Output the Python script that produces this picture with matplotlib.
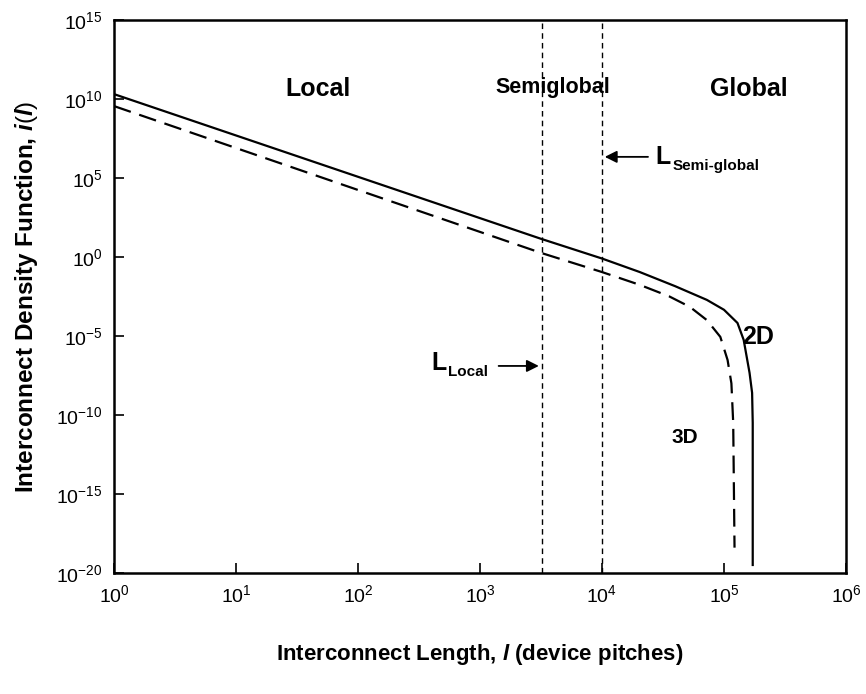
import math

import matplotlib
matplotlib.use("Agg")
import matplotlib.pyplot as plt
import matplotlib.ticker as mticker

# ---- data (log-log) ----
L_2D = [1, 3.16e3, 1.0e4, 2.04e4, 3.98e4, 7.24e4, 1.0e5, 1.29e5, 1.45e5,
        1.62e5, 1.70e5, 1.72e5, 1.72e5]
I_2D = [2.0e10, 1.4e1, 7.9e-1, 1.1e-1, 1.4e-2, 1.9e-3, 4.5e-4, 6.6e-5,
        5.6e-6, 4.6e-8, 2.5e-9, 3.2e-11, 3.2e-20]

L_3D = [1, 3.16e3, 1.0e4, 2.04e4, 3.55e4, 5.25e4, 7.24e4, 9.33e4, 1.07e5,
        1.15e5, 1.19e5, 1.22e5]
I_3D = [3.5e9, 1.8e0, 1.1e-1, 1.7e-2, 3.2e-3, 6.9e-4, 1.0e-4, 8.7e-6,
        3.0e-7, 1.0e-8, 3.2e-11, 4.0e-19]

L_LOCAL = 3.2e3
L_SEMI = 1.0e4

X_TICKS = [1e0, 1e1, 1e2, 1e3, 1e4, 1e5, 1e6]
Y_TICKS = [1e-20, 1e-15, 1e-10, 1e-5, 1e0, 1e5, 1e10, 1e15]

plt.rcParams["font.family"] = ["Liberation Sans", "DejaVu Sans"]
plt.rcParams["mathtext.fontset"] = "custom"
plt.rcParams["mathtext.rm"] = "Liberation Sans"
plt.rcParams["mathtext.it"] = "Liberation Sans:italic:bold"
plt.rcParams["mathtext.bf"] = "Liberation Sans:bold"


def pow10(v, pos):
    return r"$10^{%d}$" % round(math.log10(v))


fig = plt.figure(figsize=(8.66, 6.94), dpi=100)
ax = fig.add_axes([0.1316, 0.1744, 0.8453, 0.797])

ax.plot(L_2D, I_2D, color="black", lw=1.6, solid_joinstyle="round")
ax.plot(L_3D, I_3D, color="black", lw=1.6, dashes=(8, 4))

ax.axvline(L_LOCAL, color="black", lw=1.0, dashes=(4, 3))
ax.axvline(L_SEMI, color="black", lw=1.0, dashes=(4, 3))

ax.set_xscale("log")
ax.set_yscale("log")
ax.set_xlim(1, 1e6)
ax.set_ylim(1e-20, 1e15)
ax.set_xticks(X_TICKS)
ax.set_yticks(Y_TICKS)
ax.xaxis.set_minor_locator(mticker.NullLocator())
ax.yaxis.set_minor_locator(mticker.NullLocator())
ax.xaxis.set_major_formatter(mticker.FuncFormatter(pow10))
ax.yaxis.set_major_formatter(mticker.FuncFormatter(pow10))
ax.tick_params(direction="in", length=7, width=1.2, labelsize=14, pad=8)
for s in ax.spines.values():
    s.set_linewidth(1.8)

ax.set_xlabel(r"Interconnect Length, $l$ (device pitches)", fontsize=16,
              fontweight="bold", labelpad=26)
ax.set_ylabel(r"Interconnect Density Function, $i(l)$", fontsize=17.5,
              fontweight="bold", labelpad=12)

# region labels
ax.text(10**1.67, 10**10.6, "Local", fontsize=18, fontweight="bold",
        ha="center", va="center")
ax.text(10**3.6, 10**10.7, "Semiglobal", fontsize=15.5, fontweight="bold",
        ha="center", va="center")
ax.text(10**5.2, 10**10.6, "Global", fontsize=18, fontweight="bold",
        ha="center", va="center")

# L_Semi-global arrow
ax.annotate("", xy=(L_SEMI, 10**6.33), xytext=(10**4.4, 10**6.33),
            arrowprops=dict(arrowstyle="-|>", color="black", lw=1.3,
                            mutation_scale=18))
ax.text(10**4.44, 10**6.33, "L", fontsize=18, fontweight="bold",
        ha="left", va="center")
ax.text(10**4.58, 10**5.75, "Semi-global", fontsize=11, fontweight="bold",
        ha="left", va="center")

# L_Local arrow
ax.annotate("", xy=(L_LOCAL, 10**-6.9), xytext=(10**3.13, 10**-6.9),
            arrowprops=dict(arrowstyle="-|>", color="black", lw=1.3,
                            mutation_scale=18))
ax.text(10**2.6, 10**-6.7, "L", fontsize=18, fontweight="bold",
        ha="left", va="center")
ax.text(10**2.74, 10**-7.3, "Local", fontsize=11, fontweight="bold",
        ha="left", va="center")

ax.text(10**5.28, 10**-5.1, "2D", fontsize=18, fontweight="bold",
        ha="center", va="center")
ax.text(10**4.68, 10**-11.4, "3D", fontsize=15, fontweight="bold",
        ha="center", va="center")

fig.savefig("out.png", dpi=100)
